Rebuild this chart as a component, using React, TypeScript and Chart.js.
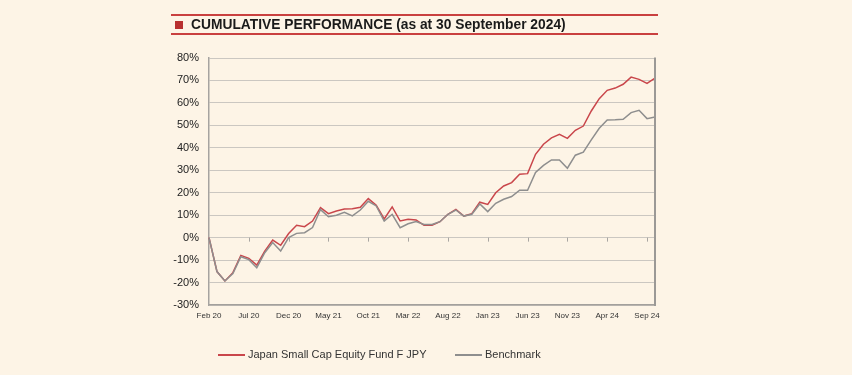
import React, { useEffect, useRef } from "react";
import { Chart, registerables } from "chart.js";

Chart.register(...registerables);

const months = [
  "Feb 20", "Mar 20", "Apr 20", "May 20", "Jun 20", "Jul 20", "Aug 20", "Sep 20", "Oct 20", "Nov 20",
  "Dec 20", "Jan 21", "Feb 21", "Mar 21", "Apr 21", "May 21", "Jun 21", "Jul 21", "Aug 21", "Sep 21",
  "Oct 21", "Nov 21", "Dec 21", "Jan 22", "Feb 22", "Mar 22", "Apr 22", "May 22", "Jun 22", "Jul 22",
  "Aug 22", "Sep 22", "Oct 22", "Nov 22", "Dec 22", "Jan 23", "Feb 23", "Mar 23", "Apr 23", "May 23",
  "Jun 23", "Jul 23", "Aug 23", "Sep 23", "Oct 23", "Nov 23", "Dec 23", "Jan 24", "Feb 24", "Mar 24",
  "Apr 24", "May 24", "Jun 24", "Jul 24", "Aug 24", "Sep 24", "Oct 24",
];

const fundValues = [
  0, -15.1, -19.3, -15.6, -7.9, -9.2, -12.2, -6.0, -1.1, -3.4,
  1.8, 5.5, 4.9, 7.4, 13.4, 10.7, 11.9, 12.7, 12.9, 13.5,
  17.4, 14.4, 8.3, 13.7, 7.4, 8.2, 7.9, 5.5, 5.5, 7.1,
  10.4, 12.6, 9.6, 10.7, 15.8, 14.8, 20.0, 23.0, 24.5, 28.2,
  28.5, 37.1, 41.6, 44.4, 46.0, 44.2, 47.8, 49.7, 56.4, 61.9,
  65.6, 66.6, 68.3, 71.5, 70.5, 68.7, 71.0,
];

const benchmarkValues = [
  0, -15.1, -19.3, -16.0, -8.5, -9.8, -13.4, -6.7, -2.2, -6.0,
  0.0, 1.9, 2.2, 4.5, 12.5, 9.3, 10.0, 11.3, 9.7, 12.3,
  16.2, 14.1, 7.4, 10.4, 4.4, 6.2, 7.2, 5.9, 5.9, 7.1,
  10.4, 12.3, 9.6, 10.4, 15.0, 11.6, 15.3, 17.1, 18.3, 21.1,
  21.1, 29.0, 32.2, 34.6, 34.6, 30.9, 36.7, 38.1, 43.5, 48.7,
  52.4, 52.5, 52.7, 55.7, 56.7, 53.0, 53.7,
];

const seriesNames = ["Japan Small Cap Equity Fund F JPY", "Benchmark"];
const titleText = "CUMULATIVE PERFORMANCE (as at 30 September 2024)";
const labelEvery = 5;

const BG = "#fdf4e6";
const RED = "#c9464b";
const GRAY = "#8e8e8e";
const FONT = "'Liberation Sans', Arial, sans-serif";

export default function App() {
  const ref = useRef<HTMLCanvasElement>(null);

  useEffect(() => {
    document.body.style.margin = "0";
    document.body.style.background = BG;
    const canvas = ref.current;
    if (!canvas) return;

    const framePlugin = {
      id: "frame",
      beforeDatasetsDraw(chart: any) {
        const { ctx, scales } = chart;
        const xs = scales.x;
        const y0 = scales.y.getPixelForValue(0);
        ctx.save();
        ctx.strokeStyle = "#a9a6a2";
        ctx.lineWidth = 1;
        for (let i = 0; i < months.length; i += labelEvery) {
          if (i === 0) continue;
          const px = Math.round(xs.getPixelForValue(i)) + 0.5;
          ctx.beginPath();
          ctx.moveTo(px, y0);
          ctx.lineTo(px, y0 + 4);
          ctx.stroke();
        }
        ctx.restore();
      },
      afterDraw(chart: any) {
        const { ctx, chartArea } = chart;
        ctx.save();
        ctx.strokeStyle = "#9b9996";
        ctx.lineWidth = 2;
        ctx.beginPath();
        ctx.moveTo(chartArea.right, chartArea.top - 0.5);
        ctx.lineTo(chartArea.right, chartArea.bottom + 1);
        ctx.stroke();
        ctx.restore();
      },
    };

    const chart = new Chart(canvas, {
      type: "line",
      data: {
        labels: months,
        datasets: [
          {
            label: seriesNames[1],
            data: benchmarkValues,
            borderColor: GRAY,
            borderWidth: 1.5,
            pointRadius: 0,
            tension: 0,
            fill: false,
          },
          {
            label: seriesNames[0],
            data: fundValues,
            borderColor: RED,
            borderWidth: 1.5,
            pointRadius: 0,
            tension: 0,
            fill: false,
          },
        ],
      },
      options: {
        responsive: false,
        animation: false,
        devicePixelRatio: 1,
        layout: { padding: { top: 58, right: 197, left: 0, bottom: 0 } },
        plugins: {
          legend: { display: false },
          title: { display: false },
          tooltip: { enabled: false },
        },
        scales: {
          x: {
            type: "category",
            offset: false,
            grid: { display: false, drawTicks: false },
            border: { display: true, color: "#a3a09c", width: 1.5 },
            ticks: {
              autoSkip: false,
              maxRotation: 0,
              minRotation: 0,
              padding: 6,
              color: "#333333",
              font: { family: FONT, size: 8 },
              callback: function (this: any, value: any, index: number) {
                return index % labelEvery === 0 ? months[index] : "";
              },
            },
            afterFit(scale: any) {
              scale.height = 70;
            },
          },
          y: {
            min: -30,
            max: 80,
            grid: { color: "#cbc7c1", lineWidth: 1, drawTicks: false },
            border: { display: true, color: "#a6a3a0", width: 1.5 },
            ticks: {
              stepSize: 10,
              padding: 10,
              color: "#222222",
              font: { family: FONT, size: 11 },
              callback: (v: any) => `${v}%`,
            },
            afterFit(scale: any) {
              scale.width = 209;
            },
          },
        },
      },
      plugins: [framePlugin],
    });

    return () => chart.destroy();
  }, []);

  const legendText: React.CSSProperties = {
    position: "absolute",
    top: 349,
    fontFamily: FONT,
    fontSize: 11,
    lineHeight: "11px",
    color: "#333333",
    whiteSpace: "nowrap",
  };

  return (
    <div
      style={{
        position: "relative",
        width: 852,
        height: 375,
        background: BG,
        overflow: "hidden",
      }}
    >
      <canvas ref={ref} width={852} height={375} style={{ position: "absolute", left: 0, top: 0 }} />
      <div style={{ position: "absolute", left: 171, top: 14, width: 487, height: 2, background: "#c9403f" }} />
      <div style={{ position: "absolute", left: 171, top: 33, width: 487, height: 2, background: "#c9403f" }} />
      <div style={{ position: "absolute", left: 175, top: 21, width: 8, height: 8, background: "#b8302f" }} />
      <div
        style={{
          position: "absolute",
          left: 191,
          top: 18,
          fontFamily: FONT,
          fontWeight: "bold",
          fontSize: 13.8,
          lineHeight: "14px",
          color: "#1a1a1a",
          whiteSpace: "nowrap",
        }}
      >
        {titleText}
      </div>
      <div style={{ position: "absolute", left: 218, top: 354, width: 27, height: 1.5, background: RED }} />
      <div style={{ ...legendText, left: 248 }}>{seriesNames[0]}</div>
      <div style={{ position: "absolute", left: 455, top: 354, width: 27, height: 1.5, background: GRAY }} />
      <div style={{ ...legendText, left: 485 }}>{seriesNames[1]}</div>
    </div>
  );
}
